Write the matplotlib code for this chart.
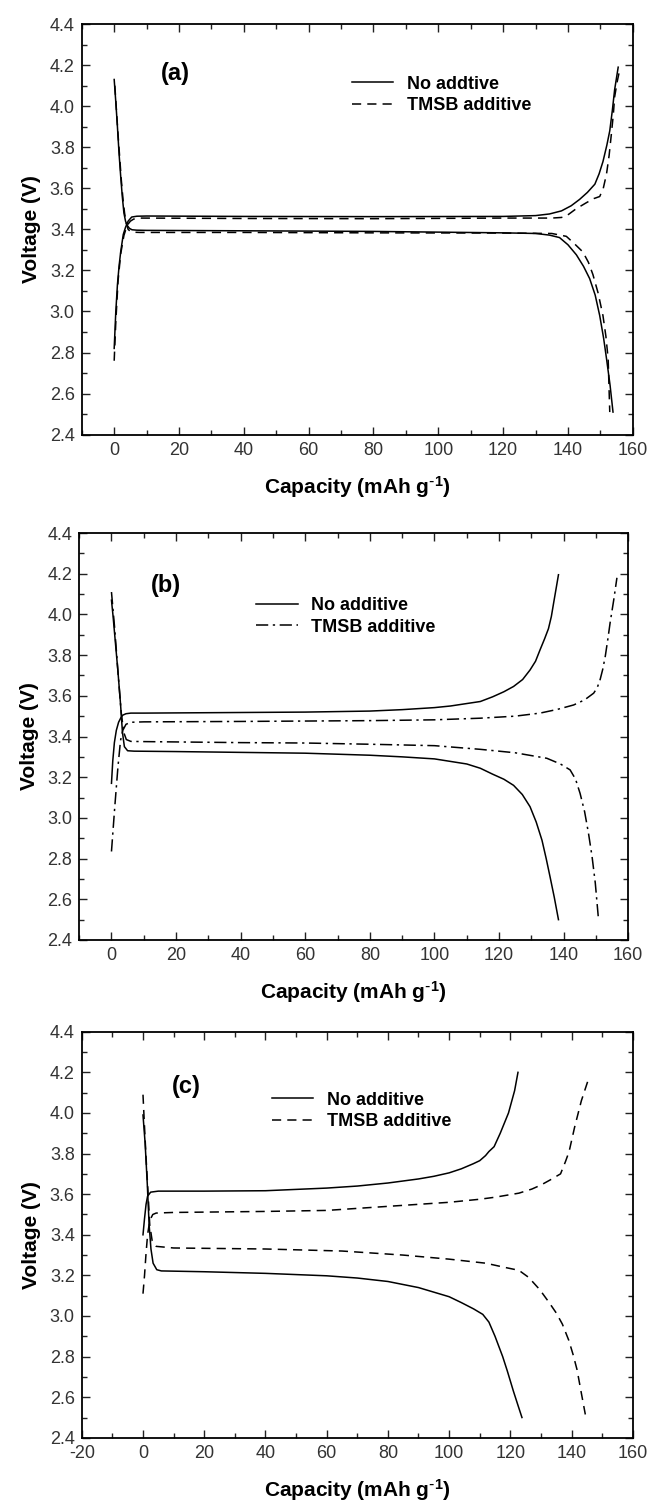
import matplotlib
matplotlib.use("Agg")
import matplotlib.pyplot as plt
from matplotlib.ticker import MultipleLocator

plt.rcParams.update({
    "font.family": ["Liberation Sans", "DejaVu Sans"],
    "mathtext.default": "regular",
    "axes.unicode_minus": False,
    "axes.linewidth": 1.3,
})

# ---- panel (a) ----
a_none_chg_x = [0, 0.5, 1.0, 1.5, 2.0, 2.8, 3.5, 4.3, 5.4, 7, 10, 40, 80, 120, 130, 134.3, 138.0,
                141, 143.6, 146, 148.3, 149.6, 150.8, 152, 152.9, 153.7, 154.4, 155.0, 155.5]
a_none_chg_v = [2.82, 3.0, 3.13, 3.22, 3.29, 3.375, 3.41, 3.44, 3.46, 3.464, 3.465, 3.463, 3.462,
                3.463, 3.467, 3.475, 3.49, 3.515, 3.546, 3.58, 3.62, 3.67, 3.73, 3.81, 3.88, 3.98,
                4.08, 4.14, 4.19]
a_none_dis_x = [0, 0.5, 1.0, 1.5, 2.0, 2.5, 3.0, 3.5, 4.0, 4.7, 5.5, 7, 10, 40, 80, 120, 130,
                134.3, 137.4, 140, 142.6, 144.8, 146.7, 148.4, 149.8, 151.0, 151.9, 153.0, 153.9]
a_none_dis_v = [4.13, 4.02, 3.90, 3.77, 3.66, 3.56, 3.48, 3.44, 3.42, 3.405, 3.398, 3.396, 3.395,
                3.393, 3.39, 3.383, 3.38, 3.372, 3.36, 3.325, 3.276, 3.22, 3.16, 3.08, 2.98, 2.87,
                2.77, 2.64, 2.51]
a_tmsb_chg_x = [0, 0.5, 1.2, 2.0, 3.0, 4.0, 5.0, 6.0, 8, 40, 80, 120, 135, 138, 139.5, 142.5,
                145.7, 148, 149.8, 150.9, 151.9, 152.7, 153.4, 154.0, 154.4, 155.2, 156.0]
a_tmsb_chg_v = [2.76, 2.95, 3.15, 3.28, 3.37, 3.42, 3.44, 3.45, 3.455, 3.453, 3.452, 3.455, 3.455,
                3.458, 3.465, 3.50, 3.53, 3.55, 3.56, 3.60, 3.67, 3.76, 3.865, 3.96, 4.045, 4.12,
                4.18]
a_tmsb_dis_x = [0.2, 0.7, 1.2, 1.7, 2.2, 2.7, 3.2, 3.7, 4.3, 5.0, 6.0, 8, 40, 80, 120, 135, 139.5,
                142, 144.6, 146.3, 147.7, 149.3, 150.8, 151.7, 152.4, 152.9]
a_tmsb_dis_v = [4.10, 3.98, 3.86, 3.75, 3.64, 3.55, 3.48, 3.43, 3.40, 3.39, 3.386, 3.385, 3.385,
                3.383, 3.382, 3.38, 3.366, 3.33, 3.29, 3.24, 3.18, 3.09, 2.98, 2.88, 2.77, 2.51]

# ---- panel (b) ----
b_none_chg_x = [0, 0.4, 0.9, 1.5, 2.2, 3.0, 3.5, 4.5, 6, 10, 20, 40, 60, 80, 90, 100, 105, 110,
                114.2, 118, 121.5, 124.5, 127.3, 129.6, 131.3, 132.7, 134.1, 135.3, 136.2,
                136.9, 137.7, 138.4]
b_none_chg_v = [3.17, 3.28, 3.37, 3.43, 3.47, 3.495, 3.505, 3.512, 3.515, 3.515, 3.516, 3.518,
                3.52, 3.525, 3.532, 3.542, 3.55, 3.562, 3.572, 3.595, 3.62, 3.646, 3.68, 3.727,
                3.77, 3.826, 3.88, 3.93, 3.99, 4.056, 4.13, 4.195]
b_none_dis_x = [0, 0.5, 1.0, 1.5, 2.0, 2.8, 3.4, 4.0, 5.0, 7, 20, 40, 60, 80, 90, 100, 110, 114.2,
                118, 121.5, 124.5, 127.2, 129.6, 131.5, 133.3, 134.6, 135.8, 137.1, 138.4]
b_none_dis_v = [4.07, 3.99, 3.90, 3.81, 3.72, 3.56, 3.42, 3.35, 3.33, 3.328, 3.326, 3.322, 3.318,
                3.308, 3.30, 3.29, 3.265, 3.244, 3.215, 3.19, 3.16, 3.115, 3.055, 2.98, 2.89, 2.80,
                2.71, 2.61, 2.50]
b_tmsb_chg_x = [0, 1.0, 2.0, 2.8, 3.5, 4.5, 6, 10, 40, 80, 100, 114.2, 125, 132.7, 138, 143.1,
                146.5, 149.3, 150.4, 151.3, 152.1, 152.9, 153.7, 154.4, 155.5, 156.5]
b_tmsb_chg_v = [2.835, 3.05, 3.25, 3.38, 3.43, 3.46, 3.47, 3.472, 3.474, 3.478, 3.482, 3.49, 3.50,
                3.515, 3.533, 3.555, 3.58, 3.613, 3.64, 3.68, 3.73, 3.795, 3.88, 3.96, 4.07, 4.18]
b_tmsb_dis_x = [0, 1.0, 2.0, 3.0, 3.8, 4.6, 6, 10, 40, 60, 80, 100, 114.2, 125, 134.8, 139, 142.0,
                143.7, 145.1, 146.5, 147.7, 148.8, 149.8, 150.3, 150.8]
b_tmsb_dis_v = [4.11, 3.93, 3.72, 3.52, 3.42, 3.385, 3.376, 3.375, 3.37, 3.368, 3.362, 3.355,
                3.337, 3.32, 3.293, 3.265, 3.236, 3.19, 3.12, 3.03, 2.924, 2.81, 2.68, 2.59, 2.50]

# ---- panel (c) ----
c_none_chg_x = [0, 0.5, 1.0, 1.5, 2.5, 5, 20, 40, 60, 70, 80, 90, 95, 100, 104, 107.9, 110,
                111.9, 113, 114.7, 116.7, 119.4, 121.4, 122.5]
c_none_chg_v = [3.40, 3.48, 3.55, 3.59, 3.61, 3.615, 3.615, 3.617, 3.63, 3.64, 3.655, 3.675,
                3.688, 3.705, 3.725, 3.75, 3.765, 3.79, 3.81, 3.834, 3.90, 4.0, 4.11, 4.20]
c_none_dis_x = [0, 0.7, 1.4, 2.0, 2.6, 3.3, 4.5, 6, 20, 40, 60, 70, 80, 90, 100, 104, 108, 111,
                113, 115, 117.5, 119, 121, 122.5, 123.8]
c_none_dis_v = [3.99, 3.85, 3.65, 3.45, 3.33, 3.26, 3.228, 3.222, 3.218, 3.21, 3.198, 3.187, 3.17,
                3.14, 3.095, 3.066, 3.035, 3.008, 2.97, 2.90, 2.80, 2.73, 2.63, 2.56, 2.50]
c_tmsb_chg_x = [0, 0.5, 1.0, 1.5, 2.2, 3.2, 4.3, 10, 40, 60, 80, 100, 110, 115, 122.8, 127, 130,
                133, 136.4, 138, 139.2, 141, 143.2, 145.6]
c_tmsb_chg_v = [3.11, 3.20, 3.31, 3.40, 3.47, 3.50, 3.507, 3.51, 3.515, 3.52, 3.54, 3.56, 3.575,
                3.585, 3.605, 3.625, 3.645, 3.67, 3.70, 3.76, 3.81, 3.93, 4.06, 4.17]
c_tmsb_dis_x = [0, 0.5, 1.0, 1.6, 2.2, 3.0, 4.3, 10, 40, 65, 85, 100, 112, 118, 122.8, 126,
                129.6, 132.5, 135, 137, 139.1, 140.5, 141.8, 143.2, 144.5]
c_tmsb_dis_v = [4.09, 3.93, 3.78, 3.62, 3.45, 3.37, 3.343, 3.335, 3.33, 3.32, 3.30, 3.28, 3.26,
                3.24, 3.225, 3.19, 3.13, 3.07, 3.015, 2.96, 2.88, 2.81, 2.735, 2.62, 2.515]

panel_tags = ["(a)", "(b)", "(c)"]
none_labels = ["No addtive", "No additive", "No additive"]
tmsb_label = "TMSB additive"

fig = plt.figure(figsize=(6.49, 15.04), dpi=100)
rects = [
    [0.126, 0.711, 0.849, 0.273],
    [0.122, 0.375, 0.846, 0.2706],
    [0.126, 0.044, 0.849, 0.270],
]
tmsb_styles = [(0, (6, 4)), (0, (8, 3, 1.5, 3)), (0, (6, 4))]
leg_pos = [(0.477, 0.892), (0.309, 0.86), (0.332, 0.87)]
tag_pos = [(0.17, 0.88), (0.158, 0.872), (0.19, 0.864)]
xlims = [(-10, 160), (-10, 160), (-20, 160)]

curves = [
    (a_none_chg_x, a_none_chg_v, a_none_dis_x, a_none_dis_v,
     a_tmsb_chg_x, a_tmsb_chg_v, a_tmsb_dis_x, a_tmsb_dis_v),
    (b_none_chg_x, b_none_chg_v, b_none_dis_x, b_none_dis_v,
     b_tmsb_chg_x, b_tmsb_chg_v, b_tmsb_dis_x, b_tmsb_dis_v),
    (c_none_chg_x, c_none_chg_v, c_none_dis_x, c_none_dis_v,
     c_tmsb_chg_x, c_tmsb_chg_v, c_tmsb_dis_x, c_tmsb_dis_v),
]

for i in range(3):
    ax = fig.add_axes(rects[i])
    nc_x, nc_v, nd_x, nd_v, tc_x, tc_v, td_x, td_v = curves[i]
    ax.plot(nc_x, nc_v, color="black", lw=1.1, label=none_labels[i])
    ax.plot(nd_x, nd_v, color="black", lw=1.1)
    ax.plot(tc_x, tc_v, color="black", lw=1.1, linestyle=tmsb_styles[i], label=tmsb_label)
    ax.plot(td_x, td_v, color="black", lw=1.1, linestyle=tmsb_styles[i])

    ax.set_xlim(*xlims[i])
    ax.set_ylim(2.4, 4.4)
    ax.xaxis.set_major_locator(MultipleLocator(20))
    ax.xaxis.set_minor_locator(MultipleLocator(10))
    ax.yaxis.set_major_locator(MultipleLocator(0.2))
    ax.yaxis.set_minor_locator(MultipleLocator(0.1))
    ax.yaxis.set_major_formatter(plt.FormatStrFormatter("%.1f"))
    ax.tick_params(which="both", direction="in", top=True, right=True, labelsize=13,
                   colors="#222222", pad=5)
    ax.tick_params(which="major", length=6, width=1)
    ax.tick_params(which="minor", length=3.5, width=1)
    for lab in ax.get_xticklabels() + ax.get_yticklabels():
        lab.set_color("#333333")

    ax.set_xlabel(r"Capacity (mAh g$^{\text{-}1}$)", fontsize=15, fontweight="bold", labelpad=11)
    ax.set_ylabel("Voltage (V)", fontsize=15, fontweight="bold", labelpad=6)
    ax.text(tag_pos[i][0], tag_pos[i][1], panel_tags[i], transform=ax.transAxes,
            fontsize=17, fontweight="bold", ha="center", va="center")
    ax.legend(loc="upper left", bbox_to_anchor=leg_pos[i], frameon=False,
              prop={"weight": "bold", "size": 13}, handlelength=2.3, handletextpad=0.75,
              labelspacing=0.25, borderaxespad=0)

fig.savefig("out.png", dpi=100)
